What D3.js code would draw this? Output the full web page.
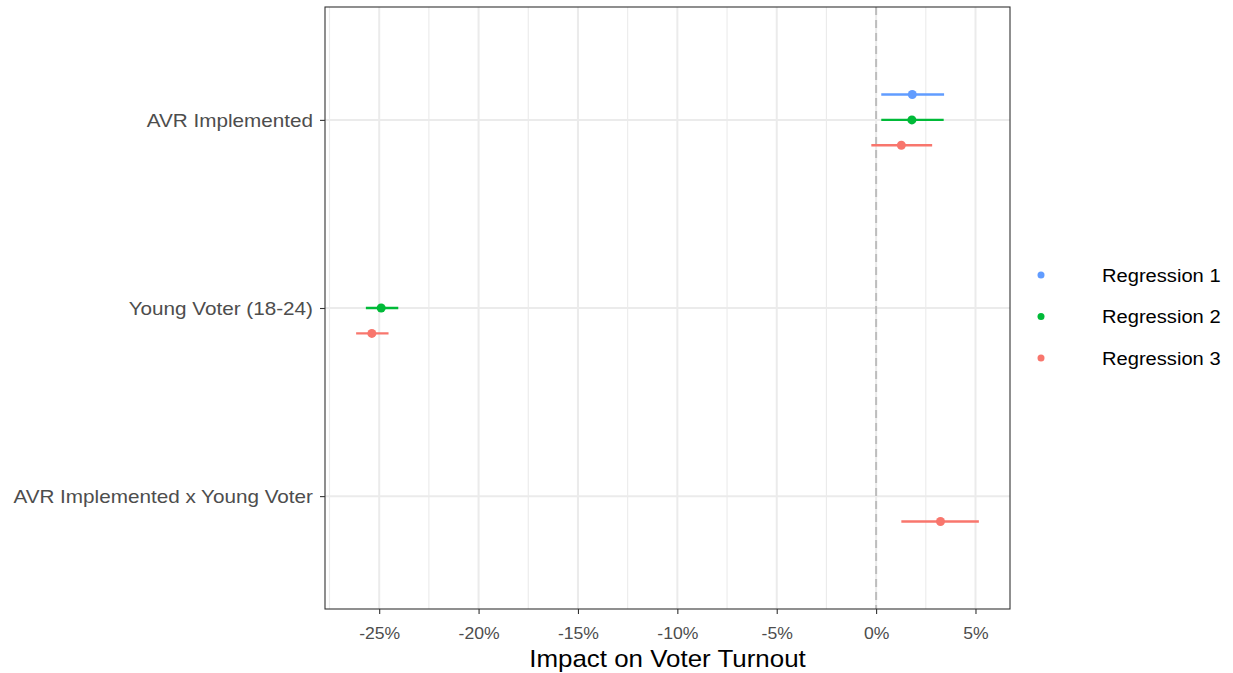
<!DOCTYPE html>
<html>
<head>
<meta charset="utf-8">
<script src="https://cdn.jsdelivr.net/npm/d3@7"></script>
<style>
  body { margin: 0; background: #fff; }
  svg text { font-family: "Liberation Sans", Arial, Helvetica, sans-serif; }
</style>
</head>
<body>
<svg id="chart" width="1233" height="673"></svg>
<script>
// terms, top to bottom
var terms = ["AVR Implemented", "Young Voter (18-24)", "AVR Implemented x Young Voter"];
var regressions = ["Regression 1", "Regression 2", "Regression 3"];
var reg_colors = ["#619CFF", "#00BA38", "#F8766D"];
var x_ticks = [-25, -20, -15, -10, -5, 0, 5];

// estimates and confidence limits in percent, one row per regression
var reg1_term = ["AVR Implemented"];
var reg1_est = [1.82];
var reg1_lo = [0.26];
var reg1_hi = [3.42];

var reg2_term = ["AVR Implemented", "Young Voter (18-24)"];
var reg2_est = [1.80, -24.90];
var reg2_lo = [0.26, -25.67];
var reg2_hi = [3.40, -24.04];

var reg3_term = ["AVR Implemented", "Young Voter (18-24)", "AVR Implemented x Young Voter"];
var reg3_est = [1.27, -25.37, 3.24];
var reg3_lo = [-0.24, -26.16, 1.27];
var reg3_hi = [2.82, -24.53, 5.17];

var rows = [];
function addRows(reg, t, e, lo, hi) {
  for (var i = 0; i < t.length; i++) rows.push({reg: reg, term: t[i], est: e[i], lo: lo[i], hi: hi[i]});
}
addRows("Regression 1", reg1_term, reg1_est, reg1_lo, reg1_hi);
addRows("Regression 2", reg2_term, reg2_est, reg2_lo, reg2_hi);
addRows("Regression 3", reg3_term, reg3_est, reg3_lo, reg3_hi);

var panel = {left: 325, right: 1010, top: 7, bottom: 609};
var svg = d3.select("#chart");
var color = d3.scaleOrdinal().domain(regressions).range(reg_colors);

var xmin = d3.min(rows, d => d.lo), xmax = d3.max(rows, d => d.hi);
var pad = (xmax - xmin) * 0.05;
var x = d3.scaleLinear().domain([xmin - pad, xmax + pad]).range([panel.left, panel.right]);
var y = d3.scalePoint().domain(terms).range([panel.top, panel.bottom]).padding(0.6);
var dodge = y.step() * 0.135;
var offset = {"Regression 1": -dodge, "Regression 2": 0, "Regression 3": dodge};

var g = svg.append("g");
// minor grid
var minor = d3.range(-27.5, 7, 5).filter(v => x(v) > panel.left && x(v) < panel.right);
g.selectAll(".minor").data(minor).enter().append("line")
  .attr("x1", d => x(d)).attr("x2", d => x(d)).attr("y1", panel.top).attr("y2", panel.bottom)
  .attr("stroke", "#EBEBEB").attr("stroke-width", 1.1);
// major grid
g.selectAll(".majx").data(x_ticks).enter().append("line")
  .attr("x1", d => x(d)).attr("x2", d => x(d)).attr("y1", panel.top).attr("y2", panel.bottom)
  .attr("stroke", "#EBEBEB").attr("stroke-width", 2);
g.selectAll(".majy").data(terms).enter().append("line")
  .attr("x1", panel.left).attr("x2", panel.right).attr("y1", d => y(d)).attr("y2", d => y(d))
  .attr("stroke", "#EBEBEB").attr("stroke-width", 2);

// zero reference
g.append("line").attr("x1", x(0)).attr("x2", x(0)).attr("y1", panel.top).attr("y2", panel.bottom)
  .attr("stroke", "#BDBDBD").attr("stroke-width", 2).attr("stroke-dasharray", "8,5");

// error bars and points
g.selectAll(".ci").data(rows).enter().append("line")
  .attr("x1", d => x(d.lo)).attr("x2", d => x(d.hi))
  .attr("y1", d => y(d.term) + offset[d.reg]).attr("y2", d => y(d.term) + offset[d.reg])
  .attr("stroke", d => color(d.reg)).attr("stroke-width", 2.4);
g.selectAll(".pt").data(rows).enter().append("circle")
  .attr("cx", d => x(d.est)).attr("cy", d => y(d.term) + offset[d.reg]).attr("r", 4.5)
  .attr("fill", d => color(d.reg));

// panel border
svg.append("rect").attr("x", panel.left).attr("y", panel.top)
  .attr("width", panel.right - panel.left).attr("height", panel.bottom - panel.top)
  .attr("fill", "none").attr("stroke", "#333333").attr("stroke-width", 1.1);

// axes
var xAxis = svg.append("g").attr("transform", "translate(0," + panel.bottom + ")")
  .call(d3.axisBottom(x).tickValues(x_ticks).tickSize(5).tickFormat(d => d + "%"));
var yAxis = svg.append("g").attr("transform", "translate(" + panel.left + ",0)")
  .call(d3.axisLeft(y).tickSize(5));
[xAxis, yAxis].forEach(function (a) {
  a.select(".domain").remove();
  a.selectAll(".tick line").attr("stroke", "#333333").attr("stroke-width", 1.1);
  a.selectAll(".tick text").attr("fill", "#4D4D4D");
});
// the reference text is a little wider than Liberation Sans, so stretch it sideways
xAxis.selectAll(".tick text").style("font-size", "16px")
  .attr("y", 30).attr("dy", 0).attr("transform", "scale(1.1,1)");
yAxis.selectAll(".tick text").style("font-size", "18px")
  .attr("x", -12 / 1.15).attr("dy", "0.38em").attr("transform", "scale(1.15,1)");

svg.append("text").attr("transform", "translate(" + (panel.left + panel.right) / 2 + ",667) scale(1.08,1)")
  .attr("text-anchor", "middle").style("font-size", "24px").attr("fill", "#000")
  .text("Impact on Voter Turnout");

// legend
var leg = svg.append("g").attr("transform", "translate(1041,275)");
var li = leg.selectAll("g").data(regressions).enter().append("g")
  .attr("transform", (d, i) => "translate(0," + i * 41.5 + ")");
li.append("circle").attr("r", 3.5).attr("fill", d => color(d));
li.append("text").attr("transform", "translate(61,0) scale(1.06,1)").attr("dy", "0.36em")
  .style("font-size", "19px").attr("fill", "#000").text(d => d);
</script>
</body>
</html>
